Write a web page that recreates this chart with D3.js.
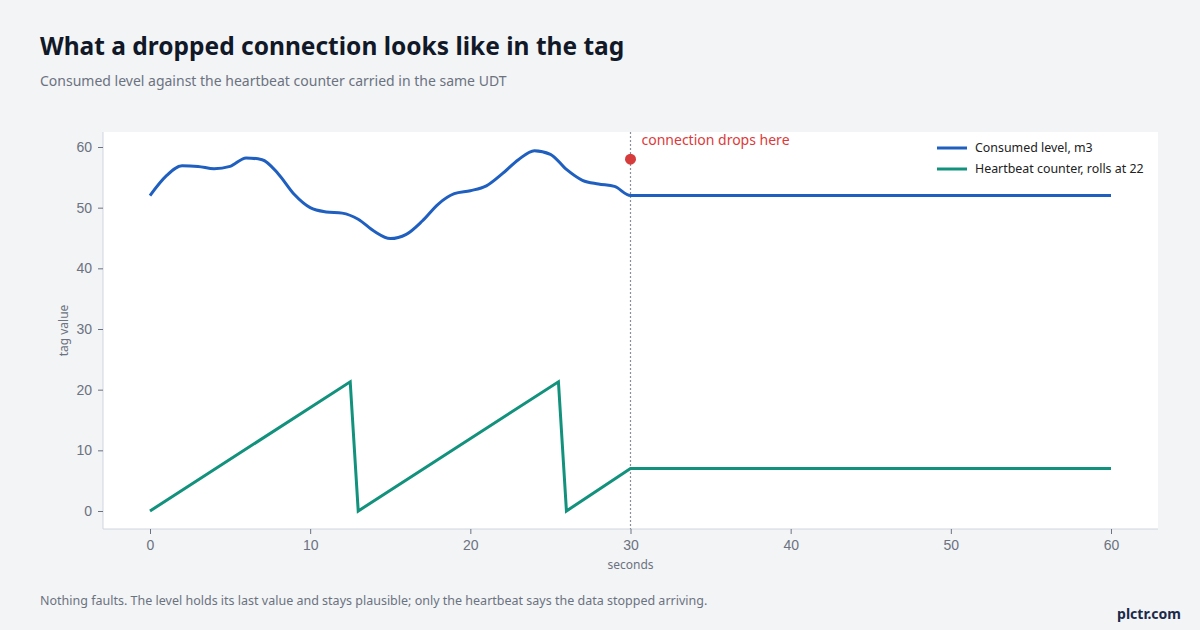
<!DOCTYPE html>
<html>
<head>
<meta charset="utf-8">
<script src="https://cdn.jsdelivr.net/npm/d3@7"></script>
<style>
  html, body { margin: 0; padding: 0; background: #f3f4f6; }
  svg { display: block; font-family: "Noto Sans", "Open Sans", sans-serif; }
</style>
</head>
<body>
<svg id="chart"></svg>
<script>
// level samples, one per second up to the drop, then held
const levelSeconds = [0, 1, 2, 3, 4, 5, 6, 7, 8, 9, 10, 11, 12, 13, 14, 15, 16, 17, 18, 19, 20, 21, 22, 23, 24, 25, 26, 27, 28, 29, 30, 60];
const levelValues = [52.0, 55.2, 56.9, 56.8, 56.4, 56.8, 58.2, 57.9, 55.6, 52.2, 50.0, 49.3, 49.1, 48.1, 46.1, 44.9, 45.6, 47.8, 50.6, 52.3, 52.8, 53.6, 55.6, 57.9, 59.4, 58.8, 56.3, 54.5, 53.9, 53.5, 52.0, 52.0];

// heartbeat counter vertices
const beatSeconds = [0, 12.5, 13, 25.5, 26, 30, 60];
const beatValues = [0, 21.3, 0, 21.3, 0, 7, 7];

const xTicks = [0, 10, 20, 30, 40, 50, 60];
const yTicks = [0, 10, 20, 30, 40, 50, 60];

const dropAt = 30;
const dropMarker = 58;

const seriesNames = ["Consumed level, m3", "Heartbeat counter, rolls at 22"];
const seriesColors = ["#1f5fbf", "#12917d"];

const W = 1200, H = 630;
const plot = { left: 103, right: 1158, top: 132, bottom: 529 };

const svg = d3.select("#chart").attr("width", W).attr("height", H);

svg.append("rect").attr("width", W).attr("height", H).attr("fill", "#f3f4f6");

// titles
svg.append("text")
  .attr("x", 40).attr("y", 55)
  .attr("font-size", 24.5).attr("font-weight", 700)
  .attr("fill", "#111827")
  .text("What a dropped connection looks like in the tag");

svg.append("text")
  .attr("x", 40).attr("y", 86)
  .attr("font-size", 14)
  .attr("fill", "#6b7280")
  .text("Consumed level against the heartbeat counter carried in the same UDT");

// plot background
svg.append("rect")
  .attr("x", plot.left).attr("y", plot.top)
  .attr("width", plot.right - plot.left)
  .attr("height", plot.bottom - plot.top)
  .attr("fill", "#fff");

// scales
const x = d3.scaleLinear().domain([0, 60]).range([150, 1111]);
const y = d3.scaleLinear().domain([0, 60]).range([511, 147]);

// x axis
const xAxis = svg.append("g")
  .attr("transform", `translate(0,${plot.bottom})`)
  .call(d3.axisBottom(x).tickValues(xTicks).tickSize(5).tickPadding(6));
xAxis.select(".domain").attr("d", `M${plot.left},0H${plot.right}`).attr("stroke", "#cfd6e0");
xAxis.selectAll(".tick line").attr("stroke", "#6b7280");
xAxis.selectAll("text").attr("fill", "#6b7280").attr("font-size", 14).attr("font-family", null);

// y axis
const yAxis = svg.append("g")
  .attr("transform", `translate(${plot.left},0)`)
  .call(d3.axisLeft(y).tickValues(yTicks).tickSize(5).tickPadding(6));
yAxis.select(".domain").attr("d", `M0,${plot.top}V${plot.bottom}`).attr("stroke", "#cfd6e0");
yAxis.selectAll(".tick line").attr("stroke", "#6b7280");
yAxis.selectAll("text").attr("fill", "#6b7280").attr("font-size", 14).attr("font-family", null);

// axis titles
svg.append("text")
  .attr("x", x(30)).attr("y", 569)
  .attr("text-anchor", "middle")
  .attr("font-size", 12).attr("fill", "#6b7280")
  .text("seconds");

svg.append("text")
  .attr("transform", `translate(68,${(plot.top + plot.bottom) / 2}) rotate(-90)`)
  .attr("text-anchor", "middle")
  .attr("font-size", 12).attr("fill", "#6b7280")
  .text("tag value");

// drop marker line
svg.append("line")
  .attr("x1", x(dropAt)).attr("x2", x(dropAt))
  .attr("y1", plot.top).attr("y2", plot.bottom)
  .attr("stroke", "#8a8f99").attr("stroke-width", 1.2)
  .attr("stroke-dasharray", "2,2");

// series
const levelData = levelSeconds.map((s, i) => [s, levelValues[i]]);
const beatData = beatSeconds.map((s, i) => [s, beatValues[i]]);

const smooth = d3.line()
  .x(d => x(d[0])).y(d => y(d[1]))
  .curve(d3.curveMonotoneX);

const straight = d3.line()
  .x(d => x(d[0])).y(d => y(d[1]));

svg.append("path")
  .datum(beatData)
  .attr("fill", "none")
  .attr("stroke", seriesColors[1])
  .attr("stroke-width", 3)
  .attr("stroke-linejoin", "miter")
  .attr("d", straight);

svg.append("path")
  .datum(levelData)
  .attr("fill", "none")
  .attr("stroke", seriesColors[0])
  .attr("stroke-width", 3)
  .attr("stroke-linejoin", "round")
  .attr("d", smooth);

// annotation
svg.append("circle")
  .attr("cx", x(dropAt)).attr("cy", y(dropMarker))
  .attr("r", 5.5)
  .attr("fill", "#d63c3c");

svg.append("text")
  .attr("x", x(dropAt) + 11).attr("y", 145)
  .attr("font-size", 14).attr("fill", "#dc3a3a")
  .text("connection drops here");

// legend
const legend = svg.append("g").attr("transform", "translate(937,148)");
const items = legend.selectAll("g")
  .data(seriesNames)
  .enter().append("g")
  .attr("transform", (d, i) => `translate(0,${i * 21})`);
items.append("line")
  .attr("x1", 0).attr("x2", 30)
  .attr("stroke", (d, i) => seriesColors[i])
  .attr("stroke-width", 3);
items.append("text")
  .attr("x", 38).attr("y", 0).attr("dy", "0.35em")
  .attr("font-size", 12.4).attr("fill", "#222")
  .text(d => d);

// footer
svg.append("text")
  .attr("x", 40).attr("y", 605)
  .attr("font-size", 12.5).attr("fill", "#6b7280")
  .text("Nothing faults. The level holds its last value and stays plausible; only the heartbeat says the data stopped arriving.");

svg.append("text")
  .attr("x", 1181).attr("y", 619)
  .attr("text-anchor", "end")
  .attr("font-size", 14).attr("font-weight", 700)
  .attr("fill", "#1b2a4a")
  .text("plctr.com");
</script>
</body>
</html>
